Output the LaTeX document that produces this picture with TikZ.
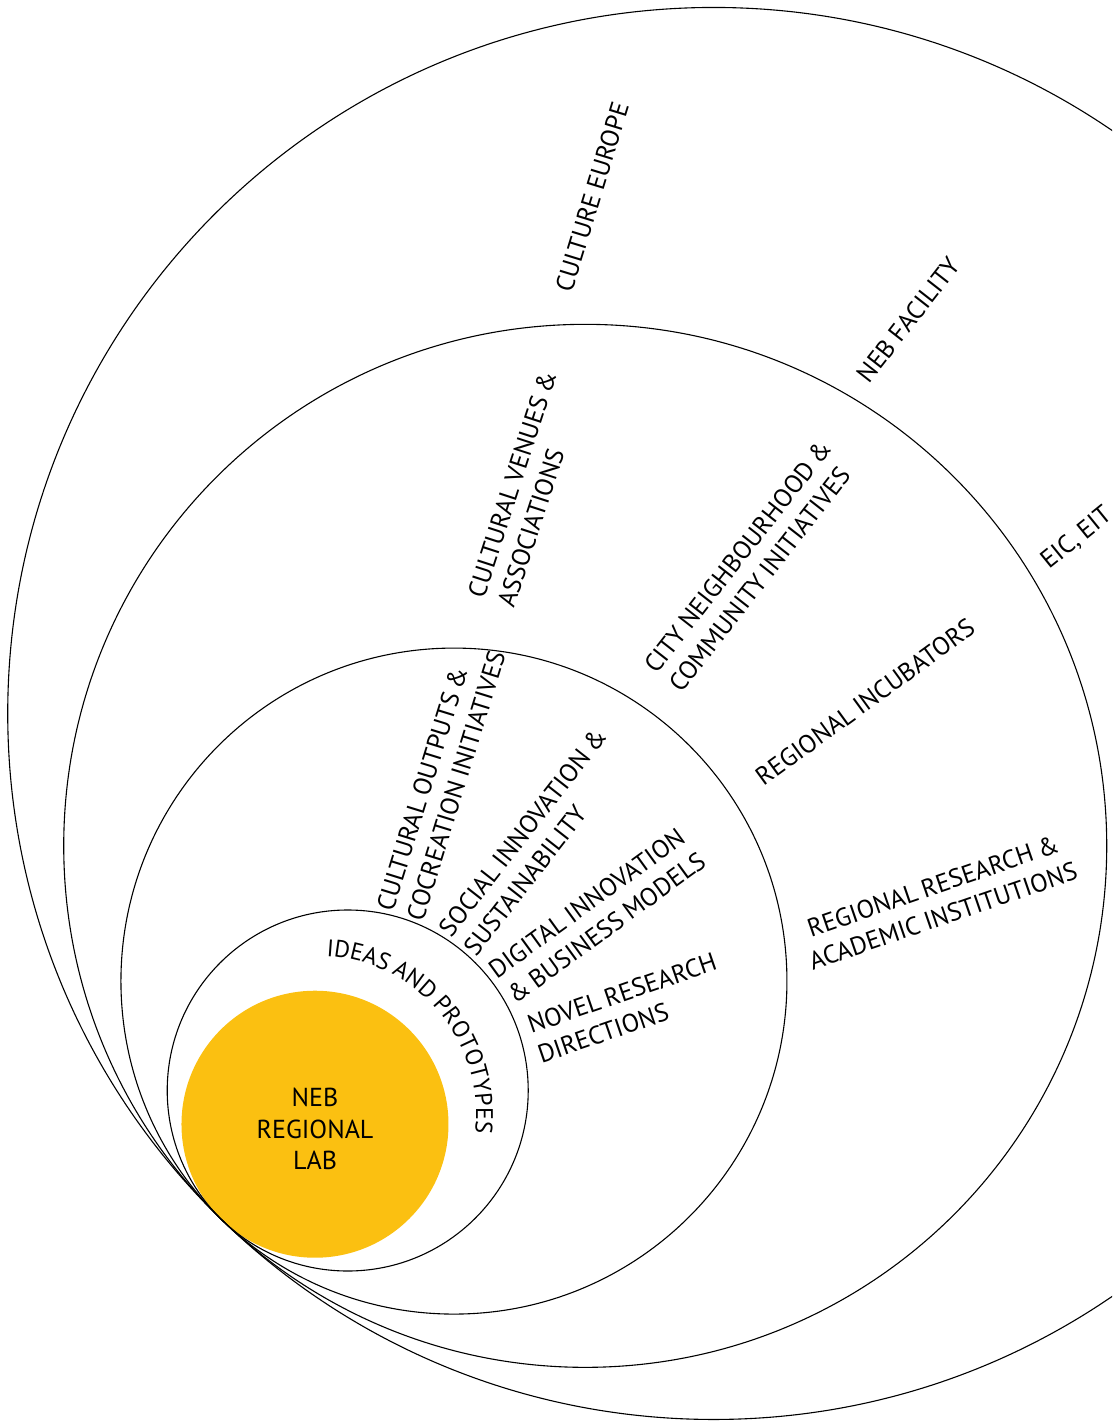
\documentclass[tikz,border=0pt]{standalone}
\usepackage{fontspec}
\setmainfont{PT Sans}[WordSpace=0.85]
\usetikzlibrary{calc,decorations.text}
\definecolor{labyellow}{RGB}{251,192,17}
\newcommand\ringfont{\fontsize{25.5}{31.5}\selectfont}
\newcommand\arcfont{\fontsize{24}{29}\selectfont}

\begin{document}
\begin{tikzpicture}[
    x=1pt, y=-1pt,
    font=\ringfont,
    ring/.style={draw=black, line width=1.1pt},
    tag/.style={align=left, inner sep=0pt}
]
    \useasboundingbox (0,0) rectangle (1112,1423);
    \clip (0,0) rectangle (1112,1423);

    % ==========================================
    % RINGS (all touching at one point)
    % ==========================================
    \coordinate (tp)   at (222,1220);
    \coordinate (arcc) at (318,1114);

    \fill[labyellow] (tp) ++(45.85:133.5pt) circle[radius=133.5pt];
    \foreach \r in {180.5, 333, 521.5, 706}
        \draw[ring] (tp) ++(45.85:\r pt) circle[radius=\r pt];

    % Core
    \node[align=center, inner sep=0pt, font=\fontsize{26}{31.5}\selectfont] (lab) at (315,1129) {NEB\\REGIONAL\\LAB};

    % Curved label round the core
    \path[decorate, decoration={text along path,
            text={|\arcfont|IDEAS AND PROTOTYPES}}]
        ($(arcc)+(87:158pt)$) arc[start angle=87, end angle=-30, radius=158pt];

    % ==========================================
    % INNER RING LABELS
    % ==========================================
    \node[tag, rotate=72.8] (outputs) at (441,781) {CULTURAL OUTPUTS \&\\COCREATION INITIATIVES};
    \node[tag, rotate=52]   (social)  at (535,842) {SOCIAL INNOVATION \&\\SUSTAINABILITY};
    \node[tag, rotate=36]   (digital) at (597,915) {DIGITAL INNOVATION\\\& BUSINESS MODELS};
    \node[tag, rotate=19]   (novel)   at (627,1008) {NOVEL RESEARCH\\DIRECTIONS};

    % ==========================================
    % MIDDLE RING LABELS
    % ==========================================
    \node[tag, rotate=72]   (venues)     at (527,489) {CULTURAL VENUES \&\\ASSOCIATIONS};
    \node[tag, rotate=52]   (city)       at (750,566) {CITY NEIGHBOURHOOD \&\\COMMUNITY INITIATIVES};
    \node[tag, rotate=36]   (incubators) at (865,702) {REGIONAL INCUBATORS};
    \node[tag, rotate=19, align=center] (research) at (938,901) {REGIONAL RESEARCH \&\\ACADEMIC INSTITUTIONS};

    % ==========================================
    % OUTER RING LABELS
    % ==========================================
    \node[tag, rotate=73] (europe)   at (592,197) {CULTURE EUROPE};
    \node[tag, rotate=52] (facility) at (908,320) {NEB FACILITY};
    \node[tag, rotate=39, anchor=base west] (eic) at (1049,570) {EIC, EIT};

\end{tikzpicture}
\end{document}
